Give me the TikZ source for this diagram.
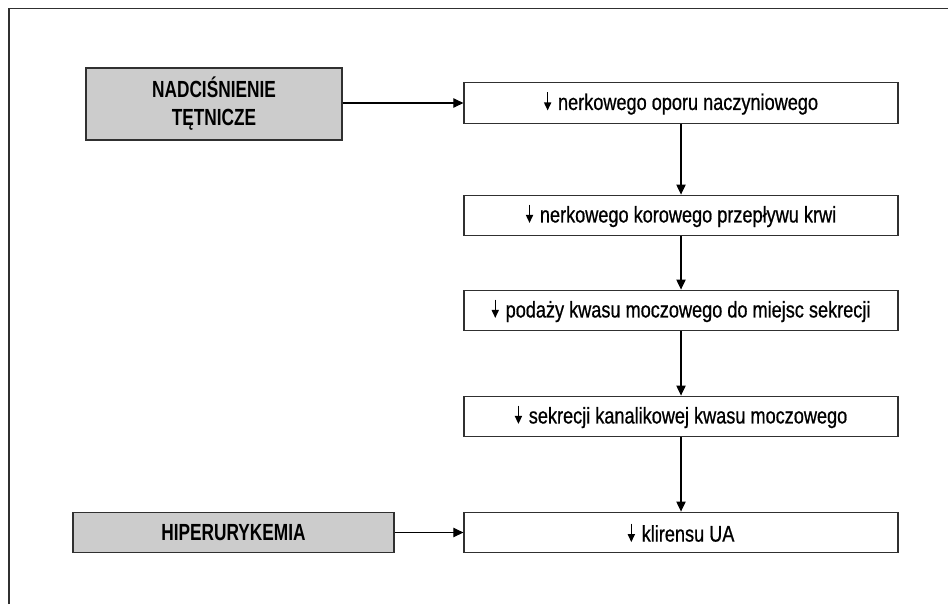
\documentclass[tikz,border=0pt]{standalone}
\usepackage{fontspec}
\setmainfont{Liberation Sans}[FakeStretch=0.8, FakeBold=0.7]
\newfontfamily\headfont{Liberation Sans}[FakeStretch=0.74]
\usetikzlibrary{arrows.meta}
\definecolor{linegray}{HTML}{303030}
\definecolor{boxgray}{HTML}{CCCCCC}
\newcommand{\dnarrow}{\tikz[baseline=0pt, x=1pt, y=1pt]{\draw[black, line width=1.1pt] (0,13.4) -- (0,4); \fill[black] (-2.8,5.6) -- (2.8,5.6) -- (0,-0.3) -- cycle;}\hspace{5pt}}
\tikzset{
  stepbox/.style={draw=linegray, line width=0.9pt, fill=white, inner sep=0pt,
    minimum width=325.5pt, minimum height=30.5pt, font=\fontsize{17}{20}\selectfont},
  causebox/.style={draw=linegray, line width=0.9pt, fill=boxgray, inner sep=0pt,
    font=\fontsize{17.5}{21}\selectfont\headfont\bfseries, align=center},
  conn/.style={draw=black, line width=0.8pt, -{Triangle[length=7.5pt, width=7pt]}},
}
\begin{document}
\begin{tikzpicture}[x=0.75pt, y=-0.75pt]
\useasboundingbox (0,0) rectangle (948,604);
\draw[linegray, line width=1pt] (9,604) -- (9,8.5) -- (948,8.5);
\node[stepbox] (b1) at (681,103) {\dnarrow nerkowego oporu naczyniowego};
\node[stepbox] (b2) at (681,215.5) {\dnarrow nerkowego korowego przepływu krwi};
\node[stepbox] (b3) at (681,310.5) {\dnarrow podaży kwasu moczowego do miejsc sekrecji};
\node[stepbox] (b4) at (681,416.5) {\dnarrow sekrecji kanalikowej kwasu moczowego};
\node[stepbox] (b5) at (681,532.5) {\dnarrow klirensu UA};
\node[causebox, minimum width=192pt, minimum height=54pt] (n1) at (214,104) {NADCIŚNIENIE\\TĘTNICZE};
\node[causebox, minimum width=240.75pt, minimum height=30.5pt] (h1) at (233.5,532.5) {HIPERURYKEMIA};
\draw[conn] (n1.east |- b1.west) -- (b1.west);
\draw[conn] (h1.east) -- (b5.west);
\draw[conn] (b1) -- (b2);
\draw[conn] (b2) -- (b3);
\draw[conn] (b3) -- (b4);
\draw[conn] (b4) -- (b5);
\end{tikzpicture}
\end{document}
